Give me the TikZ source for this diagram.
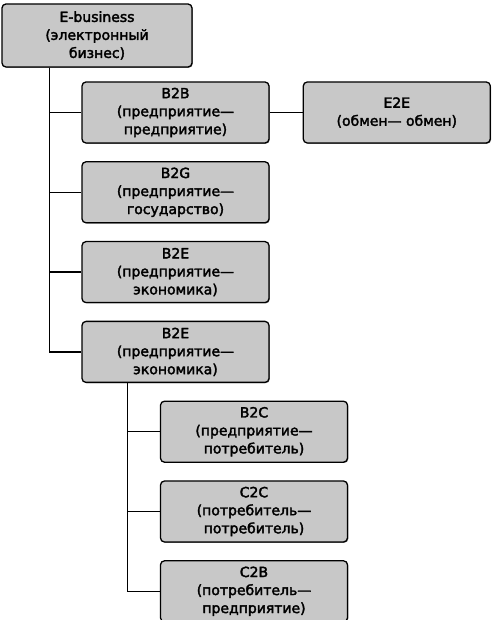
\documentclass[tikz,border=0pt]{standalone}
\usepackage{fontspec}
\setmainfont{DejaVu Sans}[BoldFont={DejaVu Sans},BoldFeatures={FakeBold=2.4}]
\usetikzlibrary{positioning,shadows}

\definecolor{boxgray}{RGB}{200,200,200}

\begin{document}
\begin{tikzpicture}[
  x=1pt, y=1pt,
  node distance=17.5pt,
  every node/.style={font=\fontsize{14}{18}\selectfont\bfseries},
  orgbox/.style={
    rectangle,
    rounded corners=4pt,
    draw=black,
    line width=1.3pt,
    align=center,
    minimum width=187pt,
    minimum height=61pt,
    inner sep=2pt,
    fill=boxgray,
    drop shadow={shadow xshift=0.8pt, shadow yshift=-0.8pt, fill=black!60, opacity=0.8}
  },
  link/.style={line width=1.5pt, draw=black}
]
\useasboundingbox (0,0) rectangle (495,620);

\node[orgbox, minimum width=190pt, minimum height=63pt] (root) at (97,584.5) {E-business\\(электронный\\бизнес)};
\node[orgbox] (b2b) at (175.5,507.5) {B2B\\(предприятие—\\предприятие)};
\node[orgbox, right=33pt of b2b] (e2e) {E2E\\(обмен— обмен)};
\node[orgbox, below=of b2b] (b2g) {B2G\\(предприятие—\\государство)};
\node[orgbox, below=of b2g] (b2e) {B2E\\(предприятие—\\экономика)};
\node[orgbox, below=of b2e] (b2ex) {B2E\\(предприятие—\\экономика)};
\node[orgbox, below=of b2ex, xshift=78.5pt] (b2c) {B2C\\(предприятие—\\потребитель)};
\node[orgbox, below=of b2c] (c2c) {C2C\\(потребитель—\\потребитель)};
\node[orgbox, below=of c2c] (c2b) {C2B\\(потребитель—\\предприятие)};

% upper branch
\foreach \n in {b2b,b2g,b2e,b2ex}
  \draw[link] ([xshift=48pt]root.south west) |- (\n.west);
\draw[link] (b2b) -- (e2e);

% lower branch
\foreach \n in {b2c,c2c,c2b}
  \draw[link] ([xshift=46pt]b2ex.south west) |- (\n.west);
\end{tikzpicture}
\end{document}
